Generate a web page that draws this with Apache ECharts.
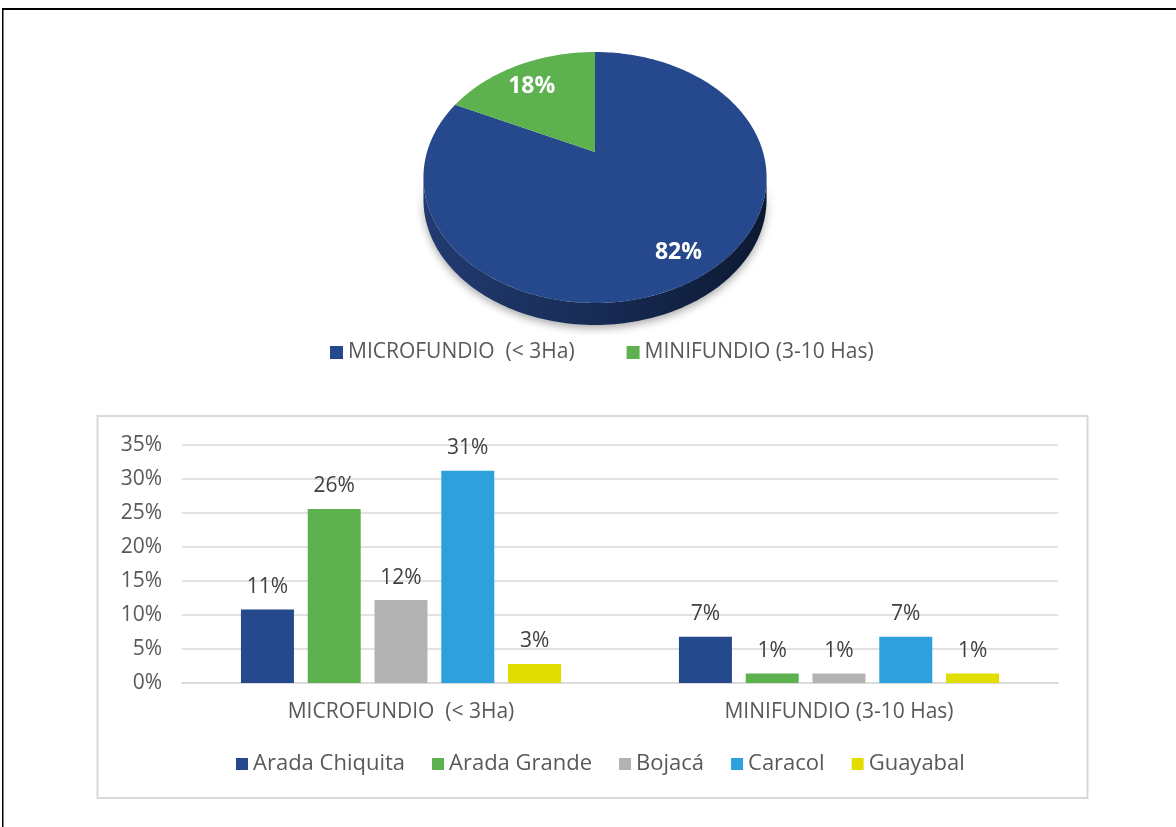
<!DOCTYPE html>
<html>
<head>
<meta charset="utf-8">
<script src="https://cdn.jsdelivr.net/npm/echarts@6/dist/echarts.min.js"></script>
<style>
html,body{margin:0;padding:0;background:#fff;}
#chart{width:1176px;height:827px;}
</style>
</head>
<body>
<div id="chart"></div>
<script>
// ---- Data ----
const pieNames = ['MICROFUNDIO  (< 3Ha)', 'MINIFUNDIO (3-10 Has)'];
const pieValues = [82, 18];
const barCategories = ['MICROFUNDIO  (< 3Ha)', 'MINIFUNDIO (3-10 Has)'];
const stations = ['Arada Chiquita', 'Arada Grande', 'Bojacá', 'Caracol', 'Guayabal'];
const aradaChiquita = [0.108, 0.068];
const aradaGrande = [0.256, 0.014];
const bojaca = [0.122, 0.014];
const caracol = [0.312, 0.068];
const guayabal = [0.028, 0.014];
const yTicks = [0, 0.05, 0.10, 0.15, 0.20, 0.25, 0.30, 0.35];

// ---- Styles ----
const pieColors = ['#25498C', '#5DB14E'];
const barColors = ['#25498C', '#5DB14E', '#B3B3B3', '#2EA1DD', '#E1DD00'];
const FONT = "'Open Sans', 'DejaVu Sans', sans-serif";

// perspective pie geometry
const P = {cx: 595, cy: 152, A: 168, B: 120.3, p: -0.203, depth: 22, labelR: 0.8, labelDy: 6};
function proj(theta, r) {
  const u = Math.sin(theta) * r, v = -Math.cos(theta) * r;
  const w = 1 + P.p * v;
  return [P.cx + P.A * u / w, P.cy + P.B * v / w];
}
const pieTotal = pieValues.reduce((a, b) => a + b, 0);

function renderSlice(idx) {
  return function (params, api) {
    let start = 0;
    for (let i = 0; i < idx; i++) start += pieValues[i];
    const a0 = start / pieTotal * Math.PI * 2;
    const a1 = (start + api.value(0)) / pieTotal * Math.PI * 2;
    const children = [];
    if (idx === 0) {
      const phiR = Math.asin(-P.p);
      const top = [], bot = [];
      const n = 120;
      for (let k = 0; k <= n; k++) {
        const phi = phiR + (Math.PI - 2 * phiR) * k / n;
        const u = Math.cos(phi), v = Math.sin(phi);
        const w = 1 + P.p * v;
        const x = P.cx + P.A * u / w, y = P.cy + P.B * v / w;
        top.push([x, y]);
        bot.push([x, y + P.depth]);
      }
      const side = top.concat(bot.reverse());
      children.push({
        type: 'polygon',
        shape: {points: side},
        style: {
          fill: new echarts.graphic.LinearGradient(424, 0, 767, 0, [
            {offset: 0, color: '#223b70'},
            {offset: 0.5, color: '#172b55'},
            {offset: 1, color: '#0d1932'}
          ], true),
          shadowBlur: 8, shadowColor: 'rgba(0,0,0,0.35)', shadowOffsetY: 3
        }
      });
    }
    const pts = [[P.cx, P.cy]];
    const steps = Math.max(4, Math.ceil((a1 - a0) / 0.02));
    for (let k = 0; k <= steps; k++) pts.push(proj(a0 + (a1 - a0) * k / steps, 1));
    children.push({type: 'polygon', shape: {points: pts}, style: {fill: pieColors[idx]}});
    const lp = proj((a0 + a1) / 2, P.labelR);
    children.push({
      type: 'text',
      style: {
        x: lp[0], y: lp[1] + P.labelDy, text: Math.round(api.value(0) / pieTotal * 100) + '%',
        fill: '#ffffff', font: "bold 23px " + FONT, align: 'center', verticalAlign: 'middle'
      }
    });
    return {type: 'group', children: children};
  };
}

const chart = echarts.init(document.getElementById('chart'), null, {renderer: 'canvas'});

const barData = [aradaChiquita, aradaGrande, bojaca, caracol, guayabal];
const barSeries = stations.map((name, i) => ({
  name: name,
  type: 'bar',
  data: barData[i],
  barWidth: 53,
  barGap: '26%',
  itemStyle: {color: barColors[i]},
  label: {
    show: true, position: 'top', distance: 12,
    color: '#404040', fontSize: 21, fontFamily: FONT,
    formatter: p => Math.round(p.value * 100) + '%'
  }
}));

const pieSeries = pieNames.map((name, i) => ({
  name: name,
  type: 'custom',
  coordinateSystem: 'none',
  renderItem: renderSlice(i),
  itemStyle: {color: pieColors[i]},
  data: [{value: pieValues[i], name: name}],
  silent: true
}));

chart.setOption({
  backgroundColor: '#ffffff',
  animation: false,
  graphic: [
    {type: 'rect', shape: {x: 2, y: 8, width: 1176, height: 2}, style: {fill: '#000'}, z: 10},
    {type: 'rect', shape: {x: 2, y: 8, width: 1.5, height: 830}, style: {fill: '#000'}, z: 10},
    {type: 'rect', shape: {x: 97.5, y: 416, width: 990, height: 382}, style: {fill: 'none', stroke: '#d9d9d9', lineWidth: 2}, z: -1}
  ],
  legend: [
    {
      data: pieNames,
      top: 337, left: 325,
      icon: 'rect', itemWidth: 13, itemHeight: 13, itemGap: 52,
      textStyle: {color: '#595959', fontSize: 21, fontFamily: FONT},
      selectedMode: false
    },
    {
      data: stations,
      top: 748, left: 231,
      icon: 'rect', itemWidth: 12, itemHeight: 12, itemGap: 27,
      textStyle: {color: '#595959', fontSize: 22, fontFamily: FONT},
      selectedMode: false
    }
  ],
  grid: {left: 182, right: 118, top: 445, bottom: 144, containLabel: false},
  xAxis: {
    type: 'category', data: barCategories,
    axisTick: {show: false},
    axisLine: {show: true, lineStyle: {color: '#d9d9d9', width: 1.5}},
    axisLabel: {color: '#595959', fontSize: 21, fontFamily: FONT, margin: 19}
  },
  yAxis: {
    type: 'value', min: yTicks[0], max: yTicks[yTicks.length - 1], interval: 0.05,
    axisLine: {show: false}, axisTick: {show: false},
    splitLine: {lineStyle: {color: '#d9d9d9', width: 1.5}},
    axisLabel: {color: '#595959', fontSize: 21, fontFamily: FONT, margin: 20,
      formatter: v => Math.round(v * 100) + '%'}
  },
  series: pieSeries.concat(barSeries)
});
</script>
</body>
</html>
